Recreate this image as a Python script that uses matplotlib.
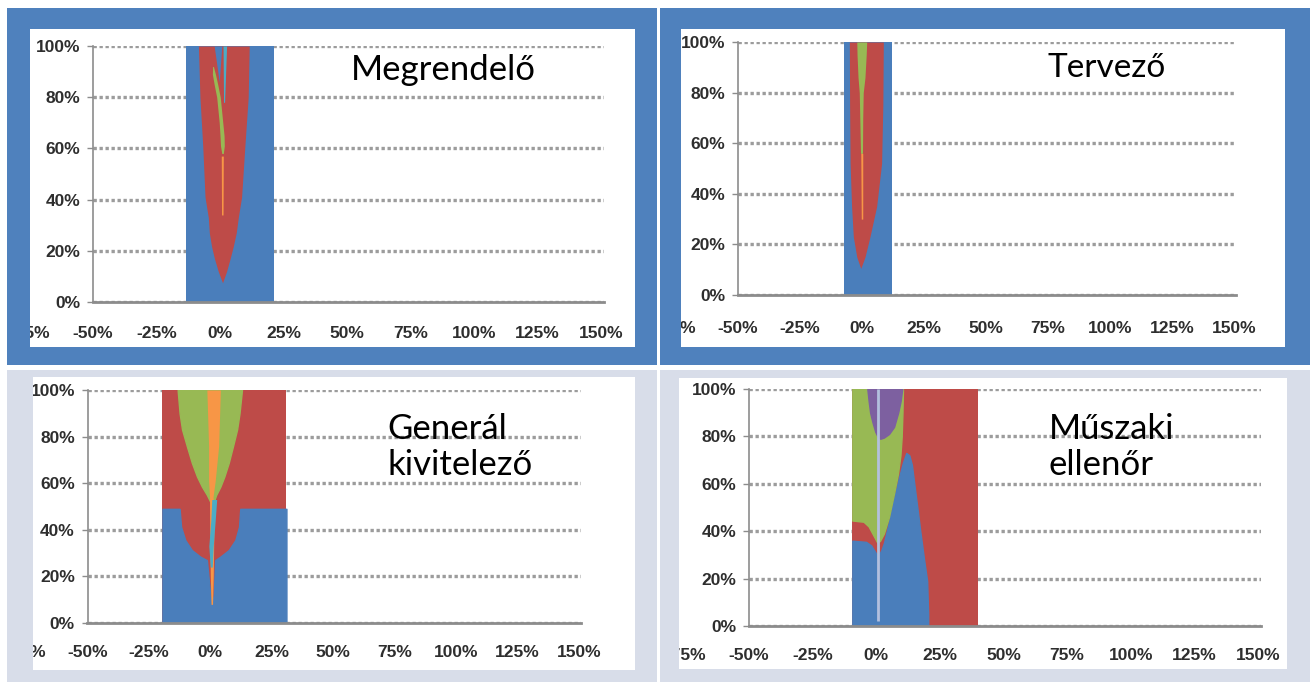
import matplotlib
matplotlib.use('Agg')
import matplotlib.pyplot as plt
from matplotlib.patches import Rectangle

# colours of the series (Excel 2007 palette)
BLUE = '#4a7ebb'
RED = '#be4b48'
GREEN = '#98b954'
PURPLE = '#7d60a0'
CYAN = '#4bacc6'
ORANGE = '#f79646'
LINE = '#b3c0de'

y_ticks = [0, 20, 40, 60, 80, 100]
x_ticks = [-75, -50, -25, 0, 25, 50, 75, 100, 125, 150]

# Megrendelő
m_rect = [-13.4, 21.3]
m_red_y = [7.5, 12, 17, 21.6, 27, 33, 41, 61, 80, 100]
m_red_l = [1.0, -0.7, -2.2, -3.3, -4.2, -4.6, -5.9, -6.8, -7.9, -8.5]
m_red_r = [1.0, 2.6, 4.0, 5.2, 6.4, 7.2, 8.5, 9.8, 11.1, 11.5]
m_blue_y = [86, 100]
m_blue_l = [-0.3, -2.3]
m_blue_r = [-0.3, 0.7]
m_green_y = [58, 61, 65, 70, 75, 80, 85, 89, 92]
m_green_l = [0.7, 0.2, 0.0, -0.3, -0.8, -1.3, -2.3, -3.0, -2.9]
m_green_r = [1.3, 1.7, 1.6, 1.1, 0.6, 0.1, -0.9, -1.8, -2.6]
m_orange_y = [34, 57]
m_orange_l = [0.6, 0.5]
m_orange_r = [1.2, 1.3]
m_cyan_y = [78, 100]
m_cyan_l = [1.4, 1.2]
m_cyan_r = [1.8, 2.6]

# Tervező
t_rect = [-7.3, 12.1]
t_red_y = [10.5, 15, 23, 35, 52, 75, 100]
t_red_l = [-0.5, -2.1, -3.5, -4.2, -4.8, -5.0, -5.1]
t_red_r = [-0.5, 1.2, 3.2, 5.9, 7.9, 8.4, 8.6]
t_green_y = [56, 70, 80, 86, 95, 100]
t_green_l = [-0.6, -0.9, -1.1, -1.6, -2.0, -2.1]
t_green_r = [0.2, 0.3, 0.5, 1.2, 1.7, 1.9]
t_orange_y = [30, 56]
t_orange_l = [-0.3, -0.5]
t_orange_r = [0.3, 0.3]

# Generál kivitelező
g_rect = [-19.5, 31.0]
g_blue_x = [-19.5, -12.5, -11.9, -10.2, -7.5, -4.1, -1.4, 0.0, 0.6, 1.4, 2.0, 4.1, 7.5, 10.2, 11.7, 12.2, 31.0]
g_blue_top = [49, 49, 41.3, 35.6, 31.3, 28.5, 27, 12, 8, 12, 27, 28.5, 31.3, 35.6, 41.3, 49, 49]
g_green_x = [-13.3, -12.5, -11.5, -9.5, -7.5, -5.4, -3.4, -1.4, 0.0, 0.7, 1.4, 2.4, 4.1, 5.7, 7.5, 9.2, 10.9, 11.9, 12.9]
g_green_bot = [100, 90, 83, 75.7, 68.7, 62.8, 58.5, 55, 52, 51, 52, 55, 58.5, 62.8, 68.7, 75.7, 83, 90, 100]
g_orange_y = [8, 20, 35, 50, 54, 61, 76, 100]
g_orange_l = [0.3, 0.0, -0.2, -0.3, -0.3, -0.7, -0.7, -1.4]
g_orange_r = [0.9, 1.2, 1.4, 1.5, 1.1, 2.0, 3.4, 4.1]
g_cyan_y = [24, 33, 44, 53]
g_cyan_l = [0.0, -0.6, 0.2, 0.6]
g_cyan_r = [0.8, 1.2, 2.0, 2.6]

# Műszaki ellenőr
e_rect = [-9.4, 40.1]
e_blue_x = [-9.4, -4, -2, 0, 1, 2, 3, 5, 7, 9, 10.5, 11.8, 13, 14, 15.3, 16.5, 17.3, 18.8, 20.0, 20.4, 20.4]
e_blue_top = [36, 35.5, 34, 30.5, 30, 32, 35, 44, 54, 63, 69, 73, 72, 68, 57, 47, 40, 28, 19, 5, 0]
e_green_x = [-9.4, -5, -3, -1, 0.5, 1.5, 3, 5, 7, 8.5, 9.5, 10.0, 10.3, 10.5]
e_green_bot = [44.5, 44, 42, 38, 35, 36, 39, 46, 56, 64, 72, 80, 90, 100]
e_purple_x = [-3.5, -3, -2.4, -1.5, -0.4, 0.5, 1.6, 3, 5, 7, 8.6, 9.6, 10.2]
e_purple_bot = [100, 95, 90, 86, 82, 80, 79, 79.5, 81, 84, 90, 95, 100]
e_line = [0.8, 2, 100]

W, H = 1316, 682
fig = plt.figure(figsize=(W / 100, H / 100), dpi=100)
fig.patch.set_facecolor('white')

TICK_FONT = ['Liberation Sans', 'DejaVu Sans']
TICK_COLOR = '#2e2e2e'
TICK_SIZE = 12.5


def frac(x0, y0, x1, y1):
    # pixel box (top-left origin) -> figure fraction rect
    return [x0 / W, 1 - y1 / H, (x1 - x0) / W, (y1 - y0) / H]


def box(x0, y0, x1, y1, color, z):
    l, b, w, h = frac(x0, y0, x1, y1)
    r = Rectangle((l, b), w, h, transform=fig.transFigure,
                  facecolor=color, edgecolor='none', zorder=z)
    fig.add_artist(r)
    return r


def make_axes(left, y0, y100, ppp, white, xpad):
    width = 201 * ppp
    ax = fig.add_axes([left / W, 1 - y0 / H, width / W, (y0 - y100) / H])
    ax.patch.set_visible(False)
    ax.set_axisbelow(True)
    ax.grid(axis='y', color='#9c9c9c', linestyle=(0, (1, 0.8)), linewidth=2.4)
    ax.grid(axis='x', visible=False)
    for s in ['top', 'right']:
        ax.spines[s].set_visible(False)
    ax.spines['left'].set_color('#8c8c8c')
    ax.spines['left'].set_linewidth(1.2)
    ax.spines['bottom'].set_color('#8c8c8c')
    ax.spines['bottom'].set_linewidth(2)
    ax.set_yticks(y_ticks)
    ax.set_yticklabels([f'{v}%' for v in y_ticks])
    ax.set_xticks(x_ticks)
    ax.set_xticklabels([f'{v}%' for v in x_ticks])
    # limits after the ticks, otherwise set_xticks widens the view
    ax.set_xlim(-50, 151)
    ax.set_ylim(0, 100)
    ax.tick_params(axis='y', length=4, width=1, color='#8c8c8c', pad=5,
                   labelsize=TICK_SIZE, labelcolor=TICK_COLOR)
    ax.tick_params(axis='x', length=0, pad=xpad, labelsize=TICK_SIZE,
                   labelcolor=TICK_COLOR)
    for lab in ax.get_xticklabels() + ax.get_yticklabels():
        lab.set_fontfamily(TICK_FONT)
        lab.set_fontweight('bold')
        lab.set_clip_path(white)
    # first category label sits left of the axis and is cut by the plot area
    t = ax.annotate(f'{x_ticks[0]}%', xy=(x_ticks[0], 0), xytext=(0, -xpad),
                    textcoords='offset points', ha='center', va='top',
                    fontsize=TICK_SIZE, fontweight='bold', color=TICK_COLOR,
                    annotation_clip=False, fontfamily=TICK_FONT)
    t.set_clip_on(True)
    t.set_clip_path(white)
    return ax


# fills are left aliased, as in the original stepped area rendering
def band(ax, y, left, right, color):
    ax.fill_betweenx(y, left, right, color=color, lw=0, antialiased=False)


def area(ax, x, low, high, color):
    # edge in the fill colour covers the pixel column of the layer below
    ax.fill_between(x, low, high, facecolor=color, edgecolor=color, lw=1,
                    antialiased=False)


# frames and plot areas
box(7, 8, 657, 365, '#4f81bd', -3)
box(660, 8, 1310, 365, '#4f81bd', -3)
box(7, 370, 657, 682, '#d8dde9', -3)
box(660, 370, 1310, 682, '#d8dde9', -3)
w_tl = box(30, 29, 635, 347, 'white', -2)
w_tr = box(681, 29, 1285, 347, 'white', -2)
w_bl = box(33, 377, 635, 670, 'white', -2)
w_br = box(679, 378, 1287, 669, 'white', -2)

# Megrendelő
ax = make_axes(93, 302, 46, 2.54, w_tl, 17)
band(ax, [0, 100], [m_rect[0]] * 2, [m_rect[1]] * 2, BLUE)
band(ax, m_red_y, m_red_l, m_red_r, RED)
band(ax, m_blue_y, m_blue_l, m_blue_r, BLUE)
band(ax, m_green_y, m_green_l, m_green_r, GREEN)
band(ax, m_orange_y, m_orange_l, m_orange_r, ORANGE)
band(ax, m_cyan_y, m_cyan_l, m_cyan_r, CYAN)

# Tervező
ax = make_axes(738, 295, 42, 2.48, w_tr, 19)
band(ax, [0, 100], [t_rect[0]] * 2, [t_rect[1]] * 2, BLUE)
band(ax, t_red_y, t_red_l, t_red_r, RED)
band(ax, t_green_y, t_green_l, t_green_r, GREEN)
band(ax, t_orange_y, t_orange_l, t_orange_r, ORANGE)

# Generál kivitelező
ax = make_axes(87.5, 623, 390, 2.456, w_bl, 16)
band(ax, [0, 100], [g_rect[0]] * 2, [g_rect[1]] * 2, RED)
area(ax, g_blue_x, 0, g_blue_top, BLUE)
area(ax, g_green_x, g_green_bot, 100, GREEN)
band(ax, g_orange_y, g_orange_l, g_orange_r, ORANGE)
band(ax, g_cyan_y, g_cyan_l, g_cyan_r, CYAN)

# Műszaki ellenőr
ax = make_axes(749, 626, 389, 2.545, w_br, 16)
band(ax, [0, 100], [e_rect[0]] * 2, [e_rect[1]] * 2, RED)
area(ax, e_blue_x, 0, e_blue_top, BLUE)
area(ax, e_green_x, e_green_bot, 100, GREEN)
area(ax, e_purple_x, e_purple_bot, 100, PURPLE)
ax.vlines(e_line[0], e_line[1], e_line[2], color=LINE, lw=2)

# panel titles
title_font = ['Lato', 'DejaVu Sans']
fig.text(443 / W, 1 - 70 / H, 'Megrendelő', fontsize=25, family=title_font,
         ha='center', va='center')
fig.text(1107 / W, 1 - 68 / H, 'Tervező', fontsize=24, family=title_font,
         ha='center', va='center')
fig.text(387 / W, 1 - 447 / H, 'Generál\nkivitelező', fontsize=25, family=title_font,
         ha='left', va='center', linespacing=1.15)
fig.text(1049 / W, 1 - 447 / H, 'Műszaki\nellenőr', fontsize=25, family=title_font,
         ha='left', va='center', linespacing=1.15)

fig.savefig('out.png', dpi=100)
